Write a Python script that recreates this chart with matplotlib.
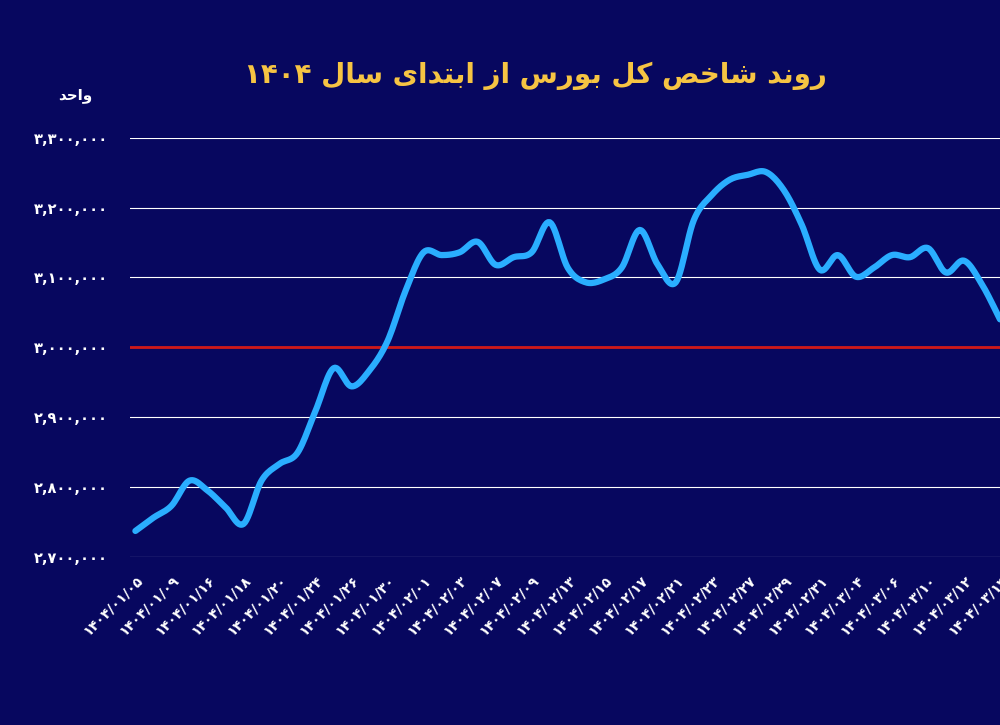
import numpy as np
import matplotlib.pyplot as plt

# index values (thousands of units), two samples per dated tick
values = [2737, 2756, 2773, 2809, 2795, 2771, 2747, 2809, 2833, 2849,
          2909, 2970, 2944, 2967, 3009, 3081, 3136, 3132, 3136, 3151,
          3118, 3129, 3136, 3179, 3114, 3093, 3097, 3114, 3168, 3118,
          3093, 3182, 3218, 3240, 3247, 3251, 3225, 3175, 3111, 3132,
          3101, 3114, 3132, 3129, 3142, 3107, 3124, 3090, 3040]
dates = ["1404/01/05", "1404/01/09", "1404/01/16", "1404/01/18", "1404/01/20",
         "1404/01/24", "1404/01/26", "1404/01/30", "1404/02/01", "1404/02/03",
         "1404/02/07", "1404/02/09", "1404/02/13", "1404/02/15", "1404/02/17",
         "1404/02/21", "1404/02/23", "1404/02/27", "1404/02/29", "1404/02/31",
         "1404/03/04", "1404/03/06", "1404/03/10", "1404/03/12", "1404/03/14"]
y_ticks = [2700000, 2800000, 2900000, 3000000, 3100000, 3200000, 3300000]
reference_level = 3000000

FA = str.maketrans("0123456789", "۰۱۲۳۴۵۶۷۸۹")


def fa(s):
    return str(s).translate(FA)


def visual(words):
    # words given as presentation-form glyphs in logical order -> visual RTL order
    return " ".join(w[::-1] for w in reversed(words))


def smooth(xs, ys, n=12):
    # Catmull-Rom curve through the points, only for drawing
    p = np.column_stack([xs, ys]).astype(float)
    p = np.vstack([p[0], p, p[-1]])
    out = []
    t = np.linspace(0, 1, n, endpoint=False)[:, None]
    for i in range(1, len(p) - 2):
        p0, p1, p2, p3 = p[i - 1], p[i], p[i + 1], p[i + 2]
        out.append(0.5 * (2 * p1 + (-p0 + p2) * t
                          + (2 * p0 - 5 * p1 + 4 * p2 - p3) * t ** 2
                          + (-p0 + 3 * p1 - 3 * p2 + p3) * t ** 3))
    out.append(p[-2][None, :])
    c = np.vstack(out)
    return c[:, 0], c[:, 1]


title = fa("1404") + " " + visual([
    "\uFEAD\uFEED\uFEE7\uFEAA",          # روند
    "\uFEB7\uFE8E\uFEA7\uFEBA",          # شاخص
    "\uFEDB\uFEDE",                      # کل
    "\uFE91\uFEEE\uFEAD\uFEB1",          # بورس
    "\uFE8D\uFEAF",                      # از
    "\uFE8D\uFE91\uFE98\uFEAA\uFE8D\uFEEF",  # ابتدای
    "\uFEB3\uFE8E\uFEDD",                # سال
])
unit = visual(["\uFEED\uFE8D\uFEA3\uFEAA"])  # واحد

bg = "#07075f"
fig = plt.figure(figsize=(10, 7.25), dpi=100, facecolor=bg)
ax = fig.add_axes([0.13, 0.232, 0.87, 0.578])
ax.set_facecolor(bg)

sx, sy = smooth(range(len(values)), [v * 1000 for v in values])
ax.plot(sx, sy, color="#2aaeff", lw=4.5,
        solid_joinstyle="round", solid_capstyle="round", zorder=3)
ax.axhline(reference_level, color="#d01818", lw=2, zorder=2)

ax.set_ylim(2700000, 3300000)
ax.set_xlim(-0.3, 46.5)
ax.set_yticks(y_ticks)
ax.set_yticklabels([fa(f"{v:,}") for v in y_ticks], color="white",
                   fontsize=10.5, fontweight="bold")
ax.grid(axis="y", color="white", lw=0.8)
ax.set_xticks(range(0, 2 * len(dates), 2))
ax.set_xticklabels([fa(d) for d in dates], rotation=45, ha="right",
                   rotation_mode="anchor", color="white", fontsize=10,
                   fontweight="bold")
ax.tick_params(length=0, pad=12)
ax.tick_params(axis="y", pad=16)
for s in ax.spines.values():
    s.set_visible(False)

fig.text(0.535, 0.895, title, color="#f6c443", fontsize=20,
         fontweight="bold", ha="center", va="center")
fig.text(0.075, 0.868, unit, color="white", fontsize=11,
         fontweight="bold", ha="center", va="center")

fig.savefig("out.png", dpi=100, facecolor=bg)
